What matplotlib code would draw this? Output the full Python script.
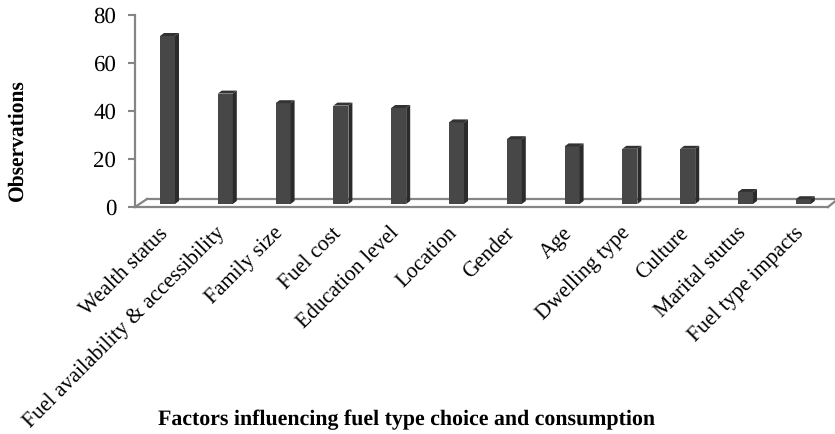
import matplotlib
matplotlib.use('Agg')
import matplotlib.pyplot as plt
from matplotlib.patches import Polygon
from matplotlib.transforms import ScaledTranslation

plt.rcParams['font.family'] = ['Liberation Serif', 'DejaVu Serif']
plt.rcParams['text.hinting'] = 'none'

factors = ['Wealth status', 'Fuel availability & accessibility', 'Family size', 'Fuel cost',
           'Education level', 'Location', 'Gender', 'Age', 'Dwelling type', 'Culture',
           'Marital stutus', 'Fuel type impacts']
observations = [70, 46, 42, 41, 40, 34, 27, 24, 23, 23, 5, 2]
y_ticks = [0, 20, 40, 60, 80]

W, H = 835, 434
fig = plt.figure(figsize=(W / 100, H / 100), dpi=100)

# axes box in pixels
left, right, top, bottom = 135, 828, 15, 207
ax = fig.add_axes([left / W, 1 - bottom / H, (right - left) / W, (bottom - top) / H])

step = 57.8  # px per category
first = 167.5  # px centre of first bar
ax.set_xlim((left - first) / step, (right - first) / step)
ax.set_ylim(0, 80)

# pixel sizes turned into data units
px_x = 1 / step
px_y = 80 / (bottom - top)
depth_x = 4 * px_x
depth_y = 3 * px_y
base = 1.25
bar_w = 15 * px_x

xs = list(range(len(factors)))
for x, v in zip(xs, observations):
    x0, x1 = x - bar_w / 2, x + bar_w / 2
    y0, y1 = base, base + v
    ax.bar(x, v, width=bar_w, bottom=base, color='#474747', zorder=4)
    ax.add_patch(Polygon([(x1, y0), (x1 + depth_x, y0 + depth_y), (x1 + depth_x, y1 + depth_y), (x1, y1)],
                         closed=True, color='#2b2b2b', lw=0, zorder=4))
    ax.add_patch(Polygon([(x0, y1), (x0 + depth_x, y1 + depth_y), (x1 + depth_x, y1 + depth_y), (x1, y1)],
                         closed=True, color='#333333', lw=0, zorder=4))

# 3d floor
grey = '#858585'
back = 8 * px_y
xl = ax.get_xlim()
ax.plot([xl[0], xl[0] + 12 * px_x], [0, back], color=grey, lw=1.6, clip_on=False, zorder=2)
ax.plot([xl[0] + 12 * px_x, xl[1] + 10 * px_x], [back, back], color=grey, lw=1.6, clip_on=False, zorder=2)
ax.plot([xl[1], xl[1] + 10 * px_x], [0, back], color=grey, lw=1.6, clip_on=False, zorder=2)

for s in ['top', 'right']:
    ax.spines[s].set_visible(False)
for s in ['left', 'bottom']:
    ax.spines[s].set_color(grey)
    ax.spines[s].set_linewidth(1.6)

ax.set_yticks(y_ticks)
ax.tick_params(axis='y', length=5, width=1.5, color=grey, labelsize=16.5, pad=8.5, labelcolor='black')
ax.set_xticks(xs)
ax.set_xticklabels(factors, rotation=45, ha='right', rotation_mode='anchor', fontsize=15.6)
ax.tick_params(axis='x', length=0, pad=11.5)

# labels sit a bit left of the bars
shift = ScaledTranslation(-10 / 100, 0, fig.dpi_scale_trans)
for lab in ax.get_xticklabels():
    lab.set_transform(lab.get_transform() + shift)

fig.text(17 / W, 1 - 140 / H, 'Observations', rotation=90, fontsize=15.5, fontweight='bold', ha='center', va='center')
fig.text(406.5 / W, 1 - 420 / H, 'Factors influencing fuel type choice and consumption', fontsize=15.75,
         fontweight='bold', ha='center', va='center')

fig.savefig('out.png', dpi=100)
